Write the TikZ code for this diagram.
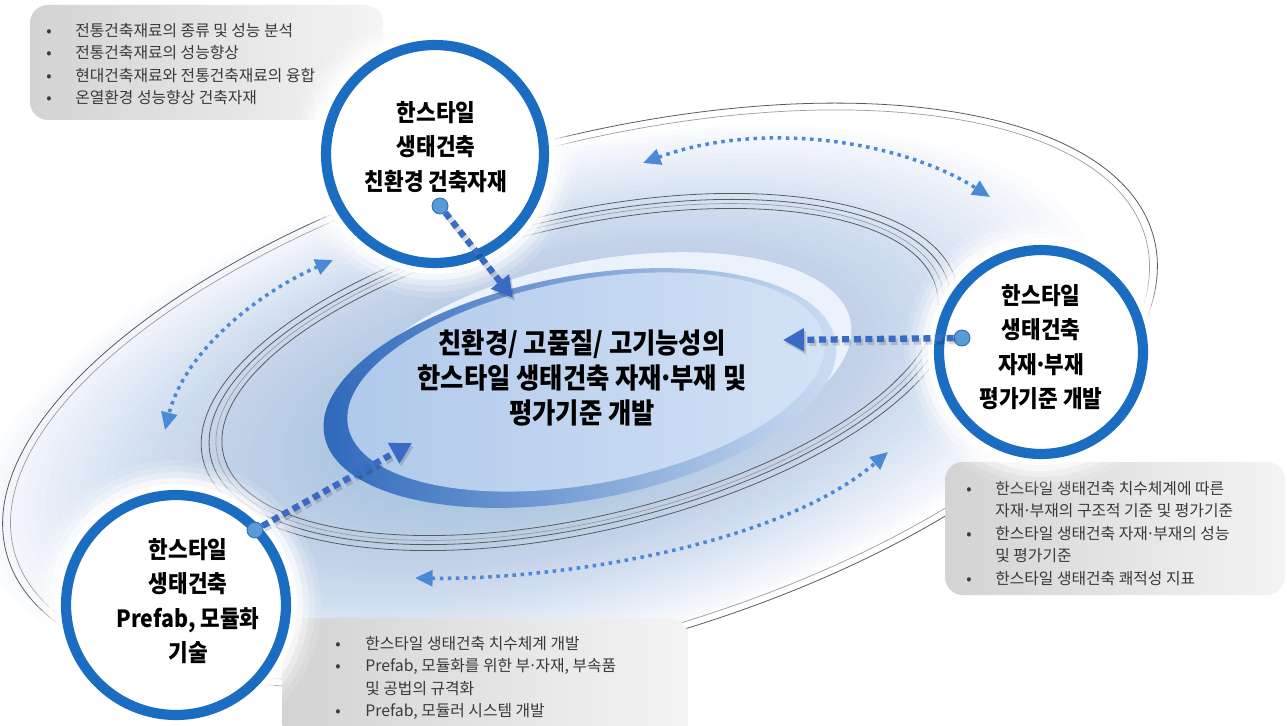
\documentclass[tikz,border=0pt]{standalone}
\usepackage{fontspec}
\usepackage{graphicx}
\newfontfamily\kr{Noto Sans CJK KR}
\usetikzlibrary{arrows.meta}
\newcommand\cond[1]{\scalebox{0.9}[1]{#1}}
\newcommand\md{\makebox[0.34em]{·}}
\definecolor{glowblue}{HTML}{8BB0E2}
\definecolor{ringblue}{HTML}{1A6DC0}
\definecolor{dotblue}{HTML}{5B9BD5}
\definecolor{dotedge}{HTML}{2E6DB4}
\definecolor{dashblue}{HTML}{3A6BC4}
\definecolor{arrblue}{HTML}{4A8AD4}
\definecolor{dkA}{HTML}{2C67BB}
\definecolor{dkM}{HTML}{3A75C6}
\definecolor{dkB}{HTML}{CFDFF3}
\definecolor{wband}{HTML}{EBF2FB}
\definecolor{lA}{HTML}{AFC8EA}
\definecolor{lB}{HTML}{D4E3F6}
\definecolor{boxdark}{HTML}{D3D3D3}
\definecolor{boxlight}{HTML}{F4F4F4}
\definecolor{boxtextc}{HTML}{3A3A3A}
\definecolor{ringgray}{HTML}{5A5A5A}
\tikzset{
  ringc/.style={circle, draw=ringblue, line width=5.8pt, fill=white, inner sep=0pt},
  dotn/.style={circle, fill=dotblue, draw=dotedge, line width=0.5pt, minimum size=0.32cm, inner sep=0pt},
  thickarrow/.style={draw=dashblue, line width=3.6pt, dash pattern=on 4pt off 2.6pt, -{Triangle[length=12pt,width=12.5pt]}},
  thickshadow/.style={draw=black, opacity=0.15, line width=3.6pt, dash pattern=on 4pt off 2.6pt, -{Triangle[length=12pt,width=12.5pt]}},
  dotarrow/.style={draw=arrblue, line width=2pt, dash pattern=on 2pt off 2.6pt, {Triangle[length=10pt,width=9pt]}-{Triangle[length=10pt,width=9pt]}},
  ctext/.style={font=\kr\bfseries\fontsize{13.5}{19.6}\selectfont, align=center, text=black, inner sep=0pt},
  mtext/.style={font=\kr\bfseries\fontsize{16}{20}\selectfont, align=center, text=black, inner sep=0pt},
  boxbg/.style={rounded corners=0.36cm, left color=boxdark, right color=boxlight},
  boxtext/.style={font=\kr\fontsize{9}{12.8}\selectfont, text=boxtextc, anchor=north west, inner sep=0pt, align=left},
  ringline/.style={draw=ringgray, line width=0.45pt},
  ringlinel/.style={draw=ringgray!60, line width=0.4pt},
}
\begin{document}
\begin{tikzpicture}[x=0.02cm,y=-0.02cm]
\useasboundingbox (0,0) rectangle (1287,726);
\fill[white] (0,0) rectangle (1287,726);

% background glow (smooth, many faint layers)
\begin{scope}[shift={(540,405)},rotate=14]
\foreach \i in {0,...,39}
  \fill[glowblue,opacity=0.029] (0,0) ellipse [x radius={(1-0.02*\i)*575}, y radius={(1-0.02*\i)*250}];
\end{scope}

% outer thin ellipses
\begin{scope}[shift={(580,395)},rotate=15.5]
  \draw[ringline] (0,0) ellipse [x radius=595, y radius=254];
  \draw[ringlinel] (0,0) ellipse [x radius=587, y radius=247];
\end{scope}

% inner rings
\begin{scope}[shift={(580,372)},rotate=13]
  \draw[ringline] (0,0) ellipse [x radius=366, y radius=145];
  \draw[ringlinel] (0,0) ellipse [x radius=372, y radius=150];
  \draw[ringline] (0,0) ellipse [x radius=379, y radius=154];
  \draw[ringline] (0,0) ellipse [x radius=387, y radius=160];
\end{scope}

% crescent core: white band, dark band, inner light ellipse
\begin{scope}[shift={(602,368)},rotate=10.5]
  \fill[wband] (0,0) ellipse [x radius=253, y radius=108];
\end{scope}
\begin{scope}[shift={(580,388)},rotate=10.5]
  \shade[left color=dkA, middle color=dkM, right color=dkB] (0,0) ellipse [x radius=260, y radius=112];
\end{scope}
\begin{scope}[shift={(586,382)},rotate=10.5]
  \shade[left color=lA, right color=lB] (0,0) ellipse [x radius=242, y radius=102];
\end{scope}

% gray boxes
\shade[boxbg] (30,5) rectangle (383,120);
\shade[boxbg] (945,462) rectangle (1285,595);
\shade[boxbg] (282,618) rectangle (688,740);

\node[boxtext] (b1) at (46,20) {\begin{tabular}{@{}p{0.58cm}@{}l@{}}
•& 전통건축재료의 종류 및 성능 분석\\
•& 전통건축재료의 성능향상\\
•& 현대건축재료와 전통건축재료의 융합\\
•& 온열환경 성능향상 건축자재
\end{tabular}};
\node[boxtext] (b2) at (966,478) {\begin{tabular}{@{}p{0.58cm}@{}l@{}}
•& 한스타일 생태건축 치수체계에 따른\\
 & 자재\md 부재의 구조적 기준 및 평가기준\\
•& 한스타일 생태건축 자재\md 부재의 성능\\
 & 및 평가기준\\
•& 한스타일 생태건축 쾌적성 지표
\end{tabular}};
\node[boxtext] (b3) at (335,633) {\begin{tabular}{@{}p{0.6cm}@{}l@{}}
•& 한스타일 생태건축 치수체계 개발\\
•& Prefab, 모듈화를 위한 부\md 자재, 부속품\\
 & 및 공법의 규격화\\
•& Prefab, 모듈러 시스템 개발
\end{tabular}};

% halos
\foreach \cx/\cy/\R in {435/154/114, 1041/352/107, 176/605/115}{
  \fill[white,opacity=0.12] (\cx,\cy) circle [radius=\R+30];
  \fill[white,opacity=0.2] (\cx,\cy) circle [radius=\R+24];
  \fill[white,opacity=0.35] (\cx,\cy) circle [radius=\R+18];
  \fill[white,opacity=0.6] (\cx,\cy) circle [radius=\R+12];
  \fill[white] (\cx,\cy) circle [radius=\R+6];
}

% circles
\node[ringc, minimum size=4.36cm] (c1) at (435,154) {};
\node[ringc, minimum size=4.08cm] (c2) at (1041,352) {};
\node[ringc, minimum size=4.40cm] (c3) at (176,605) {};

% dotted double arrows
\coordinate (p1) at (643,163);
\coordinate (p2) at (990,197);
\coordinate (p3) at (333,260);
\coordinate (p4) at (165,430);
\coordinate (p5) at (415,578);
\coordinate (p6) at (888,452);
\draw[dotarrow] (p1) .. controls (760,120) and (900,140) .. (p2);
\draw[dotarrow] (p3) .. controls (260,292) and (185,350) .. (p4);
\draw[dotarrow] (p5) .. controls (560,580) and (780,545) .. (p6);

% dots and thick dashed arrows
\node[dotn] (d1) at (440,206) {};
\node[dotn] (d2) at (962,338) {};
\node[dotn] (d3) at (255,530) {};
\coordinate (q1) at (513,298);
\coordinate (q2) at (783,340);
\coordinate (q3) at (412,443);
\draw[thickshadow, transform canvas={shift={(2,3)}}] (d1) -- (q1);
\draw[thickshadow, transform canvas={shift={(2,3)}}] (d2) -- (q2);
\draw[thickshadow, transform canvas={shift={(2,3)}}] (d3) -- (q3);
\draw[thickarrow] (d1) -- (q1);
\draw[thickarrow] (d2) -- (q2);
\draw[thickarrow] (d3) -- (q3);

% texts
\node[ctext] (t1) at (436,147) {\cond{한스타일}\\\cond{생태건축}\\\cond{친환경 건축자재}};
\node[ctext] (t2) at (1041,347) {\cond{한스타일}\\\cond{생태건축}\\\cond{자재\md 부재}\\\cond{평가기준 개발}};
\node[ctext] (t3) at (188,601) {\cond{한스타일}\\\cond{생태건축}\\\cond{Prefab, 모듈화}\\\cond{기술}};
\node[mtext] (m) at (582,378) {\cond{친환경/ 고품질/ 고기능성의}\\\cond{한스타일 생태건축 자재\md 부재 및}\\\cond{평가기준 개발}};
\end{tikzpicture}
\end{document}
